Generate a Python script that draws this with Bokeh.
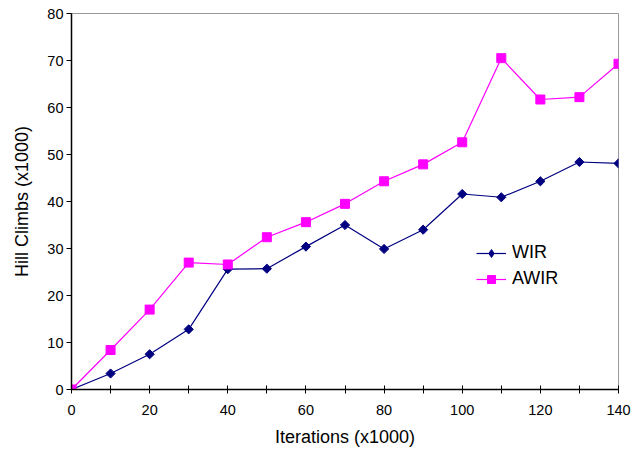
import math
from bokeh.plotting import figure
from bokeh.models import Range1d, FixedTicker, Legend, LegendItem
from bokeh.embed import file_html
from bokeh.resources import INLINE

iterations = [0, 10, 20, 30, 40, 50, 60, 70, 80, 90, 100, 110, 120, 130, 140]
wir = [0, 3.4, 7.5, 12.8, 25.6, 25.7, 30.4, 35.0, 29.9, 34.0, 41.6, 40.9, 44.3, 48.4, 48.1]
awir = [0, 8.4, 17.0, 27.0, 26.6, 32.4, 35.6, 39.5, 44.3, 47.9, 52.6, 70.5, 61.7, 62.2, 69.3]
x_ticks = [0, 20, 40, 60, 80, 100, 120, 140]
x_minor = [10, 30, 50, 70, 90, 110, 130]
y_ticks = [0, 10, 20, 30, 40, 50, 60, 70, 80]

FONT = "Liberation Sans"

p = figure(width=639, height=453, output_backend="svg", toolbar_location=None,
           x_range=Range1d(0, 140), y_range=Range1d(0, 80),
           min_border_left=71, min_border_right=21, min_border_top=13, min_border_bottom=64)
p.background_fill_color = "white"
p.border_fill_color = "white"
p.outline_line_color = "#999999"
p.outline_line_width = 1
p.xgrid.visible = False
p.ygrid.visible = False

xa = p.xaxis[0]
xa.ticker = FixedTicker(ticks=x_ticks, minor_ticks=x_minor)
xa.axis_label = "Iterations (x1000)"
xa.axis_label_text_font = FONT
xa.axis_label_text_font_style = "normal"
xa.axis_label_text_font_size = "18px"
xa.axis_label_text_color = "black"
xa.axis_label_standoff = 9
xa.major_label_text_font = FONT
xa.major_label_text_font_size = "14.5px"
xa.major_label_text_color = "black"
xa.major_label_standoff = 11
xa.axis_line_color = "black"
xa.axis_line_width = 1.5
xa.major_tick_in = 4
xa.major_tick_out = 4
xa.minor_tick_in = 4
xa.minor_tick_out = 4
xa.major_tick_line_color = "black"
xa.minor_tick_line_color = "black"

ya = p.yaxis[0]
ya.ticker = FixedTicker(ticks=y_ticks, minor_ticks=[])
ya.axis_label = "Hill Climbs (x1000)"
ya.axis_label_text_font = FONT
ya.axis_label_text_font_style = "normal"
ya.axis_label_text_font_size = "18px"
ya.axis_label_text_color = "black"
ya.axis_label_standoff = 12
ya.major_label_text_font = FONT
ya.major_label_text_font_size = "14.5px"
ya.major_label_text_color = "black"
ya.major_label_standoff = 3
ya.axis_line_color = "black"
ya.axis_line_width = 1.5
ya.major_tick_in = 0
ya.major_tick_out = 5
ya.major_tick_line_color = "black"

navy = "#000080"
mag = "#FF00FF"
l1 = p.line(iterations, wir, line_color=navy, line_width=1.2)
m1 = p.scatter(iterations, wir, marker="square", angle=math.pi / 4, size=6.5,
               fill_color=navy, line_color=navy)
l2 = p.line(iterations, awir, line_color=mag, line_width=1.2)
m2 = p.scatter(iterations, awir, marker="square", size=9, fill_color=mag, line_color=mag)
# legend-only diamond swatch (not drawn in the plot; the legend draws markers unrotated)
d1 = p.scatter([float("nan")], [float("nan")], marker="diamond", size=9,
               fill_color=navy, line_color=navy)

legend = Legend(items=[LegendItem(label="WIR", renderers=[l1, d1]),
                       LegendItem(label="AWIR", renderers=[l2, m2])],
                location=(405, 100))
legend.border_line_color = None
legend.background_fill_alpha = 0
legend.padding = 0
legend.margin = 0
legend.spacing = 5
legend.glyph_width = 30
legend.glyph_height = 20
legend.label_height = 20
legend.label_standoff = 6
legend.label_text_font = FONT
legend.label_text_font_size = "18px"
legend.label_text_color = "black"
p.add_layout(legend, "center")

open("out.html", "w").write(file_html(p, INLINE))
